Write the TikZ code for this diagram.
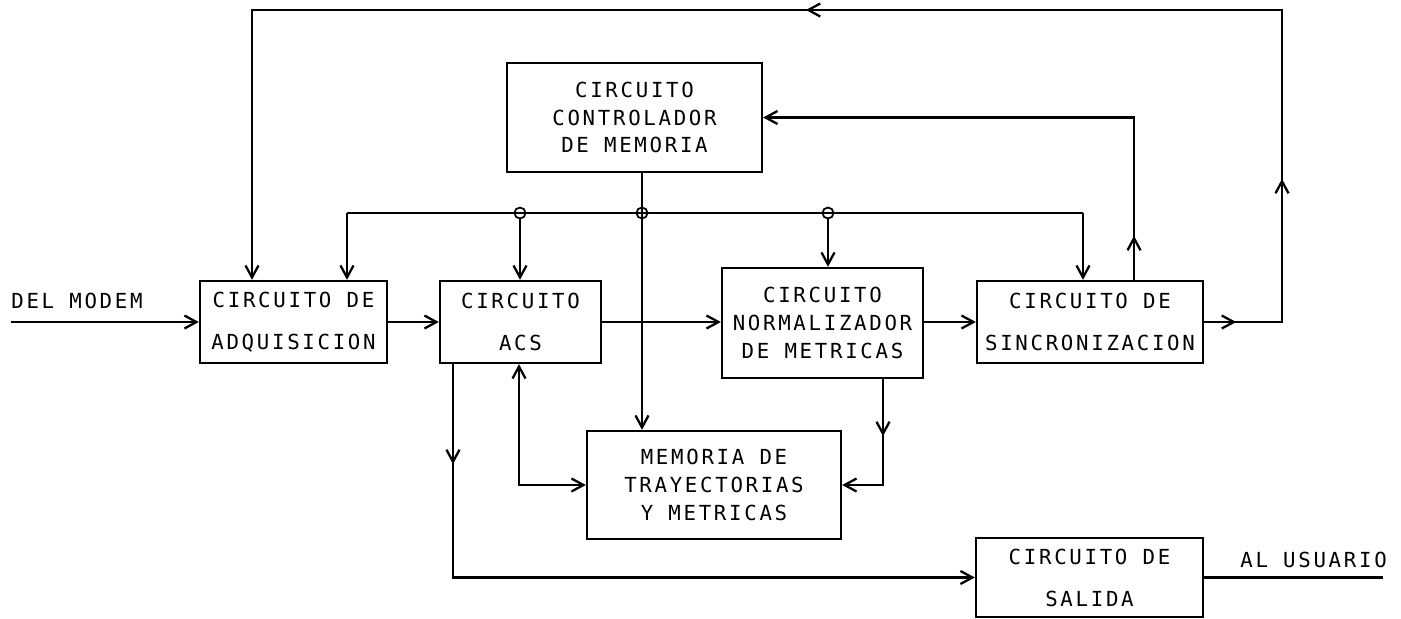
\documentclass[tikz,border=0pt]{standalone}
\usepackage{fontspec}
\usepackage{tikz}
\newfontfamily\plotter[LetterSpace=13]{DejaVu Sans Mono}
\newcommand{\plotfont}{\plotter\fontsize{11.8}{15.9}\selectfont}
\usetikzlibrary{arrows.meta, decorations.markings}

\begin{document}
\begin{tikzpicture}[
    blk/.style={draw, line width=1.3pt, inner sep=1pt, align=center, font=\plotfont},
    lbl/.style={font=\plotfont, inner sep=0pt},
    junc/.style={draw, circle, line width=1pt, inner sep=0pt, minimum size=0.22cm},
    wire/.style={line width=1.3pt},
    arrow/.style={wire, -{Straight Barb[length=2.4mm, width=2.6mm]}},
    twoway/.style={wire, {Straight Barb[length=2.4mm, width=2.6mm]}-{Straight Barb[length=2.4mm, width=2.6mm]}},
    midtip/.style={postaction={decorate, decoration={markings,
        mark=at position #1 with {\arrow{Straight Barb[length=2.4mm, width=2.6mm]}}}}}
]
    \useasboundingbox (0,0) rectangle (28.02,-12.38);

    \node[blk, minimum width=3.74cm, minimum height=1.64cm] (adq) at (5.87,-6.44) {CIRCUITO DE\\[8pt]ADQUISICION};
    \node[blk, minimum width=3.22cm, minimum height=1.64cm] (acs) at (10.41,-6.44) {CIRCUITO\\[8pt]ACS};
    \node[blk, minimum width=4.02cm, minimum height=2.20cm] (norm) at (16.45,-6.46) {CIRCUITO\\NORMALIZADOR\\DE METRICAS};
    \node[blk, minimum width=4.52cm, minimum height=1.64cm] (sinc) at (21.80,-6.44) {CIRCUITO DE\\[8pt]SINCRONIZACION};
    \node[blk, minimum width=5.10cm, minimum height=2.18cm] (ctrl) at (12.69,-2.35) {CIRCUITO\\CONTROLADOR\\DE MEMORIA};
    \node[blk, minimum width=5.08cm, minimum height=2.16cm] (mem) at (14.28,-9.70) {MEMORIA DE\\TRAYECTORIAS\\Y METRICAS};
    \node[blk, minimum width=4.54cm, minimum height=1.58cm] (sal) at (21.79,-11.55) {CIRCUITO DE\\[8pt]SALIDA};

    \node[lbl, anchor=base west] (modem) at (0.22,-6.16) {DEL MODEM};
    \node[lbl, anchor=base west] (usuario) at (24.80,-11.34) {AL USUARIO};

    \coordinate (din) at (0.22,-6.44);
    \coordinate (dout) at (27.66,-11.55);
    \coordinate (fbR) at (25.64,-0.20);
    \coordinate (fbL) at (5.04,-0.20);
    \coordinate (fbC) at (22.68,-2.35);
    \coordinate (busL) at (6.94,-4.26);
    \coordinate (busR) at (21.66,-4.26);
    \coordinate (sx) at (9.06,-11.55);
    \coordinate (bx) at (10.38,-9.70);
    \coordinate (nx) at (17.66,-9.70);

    \node[junc] (j1) at (10.40,-4.26) {};
    \node[junc] (j2) at (12.84,-4.26) {};
    \node[junc] (j3) at (16.56,-4.26) {};

    % main chain
    \draw[arrow] (din) -- (adq.west);
    \draw[arrow] (adq) -- (acs);
    \draw[arrow] (acs.east) -- (acs.east -| norm.west);
    \draw[arrow] (sinc.west -| norm.east) -- (sinc.west);
    \draw[wire] (sal.east) -- (dout);

    % feedback loops
    \draw[arrow, midtip=0.64cm, midtip=4.42cm, midtip=17.32cm]
        (sinc.east) -- (sinc.east -| fbR) |- (fbL) -- (fbL |- adq.north);
    \draw[arrow, midtip=0.88cm] (sinc.north -| fbC) |- (ctrl.east);

    % control bus
    \draw[wire] (busR) -- (busL);
    \draw[arrow] (busL) -- (busL |- adq.north);
    \draw[arrow] (busR) -- (busR |- sinc.north);
    \draw[arrow] (j1) -- (j1 |- acs.north);
    \draw[arrow] (j3) -- (j3 |- norm.north);
    \draw[arrow] (j2 |- ctrl.south) -- (j2 |- mem.north);

    % memory and output
    \draw[arrow, midtip=2.00cm] (acs.south -| sx) |- (sal.west);
    \draw[twoway] (acs.south -| bx) |- (mem.west);
    \draw[arrow, midtip=1.14cm] (norm.south -| nx) |- (mem.east);
\end{tikzpicture}
\end{document}
